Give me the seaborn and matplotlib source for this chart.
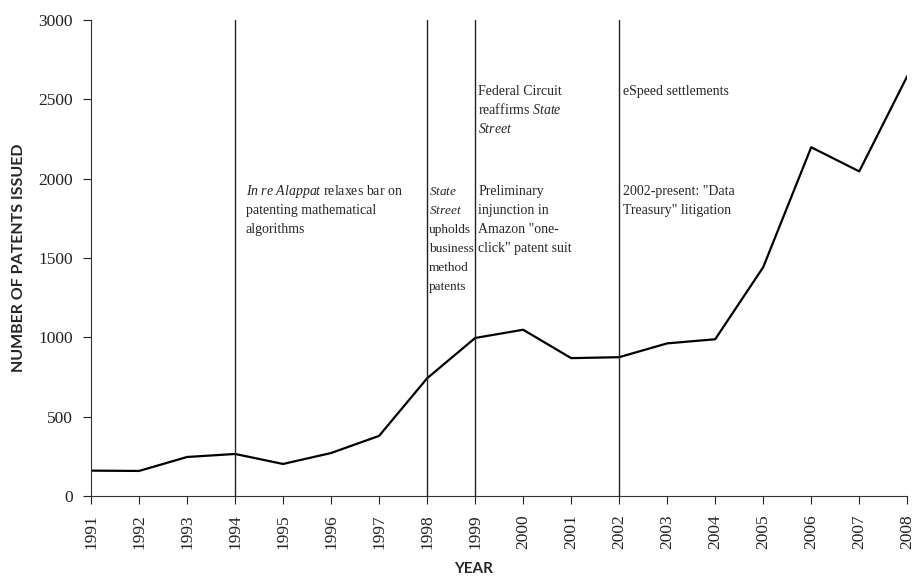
import numpy as np
import pandas as pd
import seaborn as sns
import matplotlib.pyplot as plt

# dados
anos = [1991, 1992, 1993, 1994, 1995, 1996, 1997, 1998, 1999,
        2000, 2001, 2002, 2003, 2004, 2005, 2006, 2007, 2008]
patentes = [160, 158, 246, 265, 202, 271, 379, 742, 996,
            1048, 869, 875, 962, 988, 1442, 2198, 2046, 2646]

anos_eventos = [1994, 1998, 1999, 2002]

df = pd.DataFrame({"ano": anos, "patentes": patentes})

sns.set_theme(style="ticks")
plt.rcParams['font.family'] = ['Liberation Serif', 'DejaVu Serif']
plt.rcParams['mathtext.fontset'] = 'custom'
plt.rcParams['mathtext.rm'] = 'Liberation Serif'
plt.rcParams['mathtext.it'] = 'Liberation Serif:italic'

fig = plt.figure(figsize=(9.14, 5.8), dpi=100)
ax = fig.add_axes([0.0996, 0.1448, 0.893, 0.8207])

sns.lineplot(data=df, x="ano", y="patentes", color="black", linewidth=1.6, ax=ax)

for a in anos_eventos:
    ax.axvline(a, color="#222222", linewidth=1.0)

# anotacoes: uma linha de cada vez para manter o espacamento igual
passo = 120


def bloco(x, y, linhas, tam=10):
    for i, l in enumerate(linhas):
        ax.text(x, y - i * passo, l, va="baseline", ha="left", fontsize=tam)


bloco(1994.22, 1900, ["$\\it{In\\ re\\ Alappat}$ relaxes bar on",
                      "patenting mathematical", "algorithms"])
bloco(1998.04, 1900, ["$\\it{State}$", "$\\it{Street}$", "upholds",
                      "business", "method", "patents"], tam=9.5)
bloco(1999.07, 2525, ["Federal Circuit", "reaffirms $\\it{State}$", "$\\it{Street}$"])
bloco(1999.07, 1900, ["Preliminary", "injunction in", "Amazon \"one-",
                      "click\" patent suit"])
bloco(2002.08, 2525, ["eSpeed settlements"])
bloco(2002.08, 1900, ["2002-present: \"Data", "Treasury\" litigation"])

ax.set_xlim(1991, 2008)
ax.set_ylim(0, 3000)
ax.set_xticks(anos)
ax.set_xticklabels([str(a) for a in anos], rotation=90, fontsize=12.5)
ax.set_yticks([0, 500, 1000, 1500, 2000, 2500, 3000])
ax.set_yticklabels(["0", "500", "1000", "1500", "2000", "2500", "3000"], fontsize=12.5)
ax.tick_params(axis="both", length=6, width=0.8, colors="#222222", pad=7)

ax.set_xlabel("YEAR", fontsize=11, fontweight="bold", family="Lato")
ax.set_ylabel("NUMBER OF PATENTS ISSUED", fontsize=11.5, fontweight="bold", family="Lato")
ax.xaxis.set_label_coords((473 - 91) / 816, -0.138)
ax.yaxis.set_label_coords(-0.08, 0.5)

sns.despine(ax=ax)
for s in ["left", "bottom"]:
    ax.spines[s].set_linewidth(0.8)
    ax.spines[s].set_color("#333333")

plt.savefig("out.png", dpi=100)
